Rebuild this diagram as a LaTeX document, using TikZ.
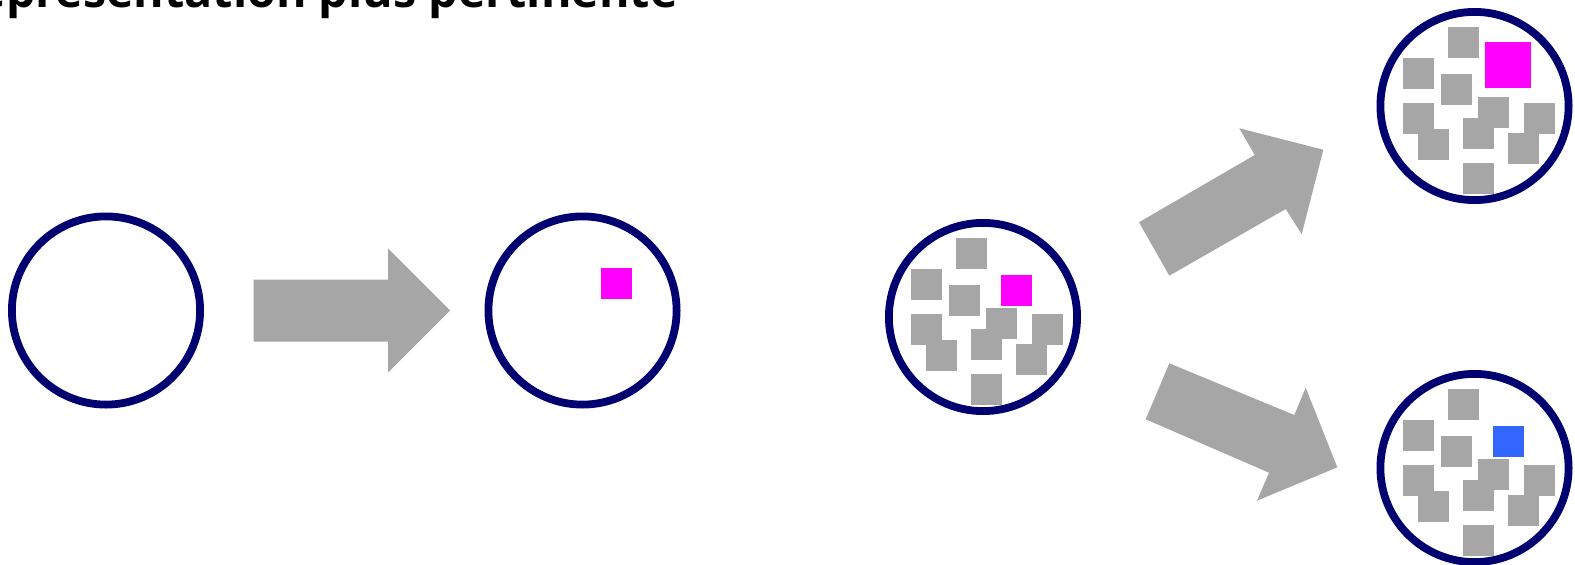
\documentclass[tikz,border=0pt]{standalone}
\usepackage{fontspec}
\newfontfamily\titlefam{Open Sans}
\definecolor{ringblue}{RGB}{0,0,112}
\definecolor{blockgray}{RGB}{166,166,166}
\definecolor{hotmag}{RGB}{255,0,255}
\definecolor{brightblue}{RGB}{51,102,255}
\tikzset{
  ring/.style={circle, draw=ringblue, line width=7.8pt, minimum size=188.2pt, inner sep=0pt, fill=white},
  blockarrow/.style={fill=blockgray, draw=none},
  sq/.style={fill=blockgray},
  cluster/.pic={
    \foreach \dx/\dy in {-27/-79, -72/-48.5, -34/-32.5, -72/-3.5, -57/22.5, 3/-9.5, -12/11.5, 49/-3.5, 33/26.5, -12/57}
      \fill[sq] (\dx,\dy) rectangle ++(31,31);
  }
}
\begin{document}
\begin{tikzpicture}[x=1pt,y=-1pt]
\useasboundingbox (0,0) rectangle (1575,565);
\clip (0,0) rectangle (1575,565);
% title (cut off by the frame, as in the reference)
\node[anchor=base east, inner sep=0pt, font=\titlefam\bfseries\fontsize{46.6}{52}\selectfont] (title) at (678,7) {Représentation plus pertinente};
% circles
\node[ring] (c1) at (106,310.5) {};
\node[ring] (c2) at (582.5,310.5) {};
\node[ring] (c3) at (983,317) {};
\node[ring] (c4) at (1474.5,106) {};
\node[ring] (c5) at (1474.5,468) {};
% square in c2
\fill[hotmag] ([shift={(18,-43)}]c2.center) rectangle ++(31,31);
% clusters
\pic at (c3.center) {cluster};
\fill[hotmag] ([shift={(18,-42)}]c3.center) rectangle ++(31,31);
\pic at (c4.center) {cluster};
\fill[hotmag] ([shift={(10.5,-64)}]c4.center) rectangle ++(46,46);
\pic at (c5.center) {cluster};
\fill[brightblue] ([shift={(18.5,-42)}]c5.center) rectangle ++(31,31);
% block arrows
\fill[blockarrow] (253.5,279.5) -- (388,279.5) -- (388,248.5) -- (450,310.5) -- (388,372.5) -- (388,341.5) -- (253.5,341.5) -- cycle;
\fill[blockarrow] (1139,222.3) -- (1254.7,155) -- (1239.3,128.3) -- (1323.3,149.7) -- (1301.7,234.3) -- (1285.7,209) -- (1169.3,275.7) -- cycle;
\fill[blockarrow] (1169.3,363.3) -- (1294.3,415) -- (1305.7,387.7) -- (1337.3,467.3) -- (1257,500.7) -- (1269,472.7) -- (1145.7,419.3) -- cycle;
\end{tikzpicture}
\end{document}
